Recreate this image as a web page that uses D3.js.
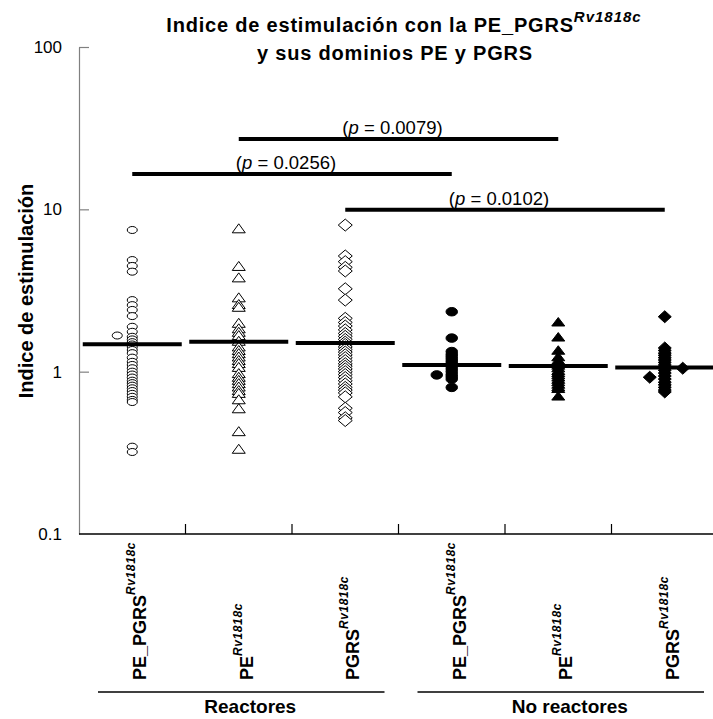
<!DOCTYPE html>
<html>
<head>
<meta charset="utf-8">
<script src="https://cdn.jsdelivr.net/npm/d3@7"></script>
<style>
  body { margin: 0; background: #fff; }
  svg { display: block; }
  text { font-family: "Liberation Sans", Arial, Helvetica, sans-serif; fill: #000; }
</style>
</head>
<body>
<svg id="chart" width="713" height="719"></svg>
<script>
// ---- data -------------------------------------------------------------
const categories = ["PE_PGRS", "PE", "PGRS", "PE_PGRS", "PE", "PGRS"];
const strain = "Rv1818c";
const groupNames = ["Reactores", "No reactores"];
const groupFirst = [0, 3];
const groupLast = [2, 5];
const markerShape = ["circle", "triangle", "diamond", "circle", "triangle", "diamond"];
const markerFilled = [false, false, false, true, true, true];

// stimulation index per individual, main column of each category
const reactPePgrs = [7.46, 4.87, 4.48, 4.13, 2.76, 2.57, 2.40, 2.20, 1.89, 1.76, 1.64, 1.58, 1.52, 1.47,
  1.42, 1.36, 1.30, 1.22, 1.15, 1.10, 1.05, 1.00, 0.96, 0.92, 0.88, 0.85, 0.82, 0.79, 0.76, 0.73,
  0.70, 0.67, 0.65, 0.345, 0.32];
const reactPe = [7.64, 4.48, 3.81, 2.87, 2.61, 2.51, 2.00, 1.85, 1.76, 1.68, 1.55, 1.43, 1.36, 1.30,
  1.24, 1.18, 1.13, 1.07, 0.98, 0.93, 0.89, 0.85, 0.81, 0.77, 0.74, 0.676, 0.595, 0.43, 0.335];
const reactPgrs = [8.0, 5.16, 4.76, 4.39, 4.17, 3.24, 2.76, 2.13, 2.01, 1.91, 1.81, 1.72, 1.65, 1.58,
  1.52, 1.47, 1.42, 1.37, 1.32, 1.27, 1.22, 1.17, 1.12, 1.08, 1.04, 1.00, 0.96, 0.92, 0.88, 0.84,
  0.80, 0.77, 0.74, 0.70, 0.595, 0.56, 0.52, 0.50];
const nonReactPePgrs = [2.34, 1.61, 1.33, 1.28, 1.24, 1.20, 1.16, 1.12, 1.08, 1.04, 1.00, 0.96, 0.93, 0.90, 0.80];
const nonReactPe = [2.03, 1.64, 1.36, 1.24, 1.18, 1.14, 1.10, 1.06, 1.02, 0.99, 0.96, 0.93, 0.90, 0.87,
  0.84, 0.81, 0.79, 0.71];
const nonReactPgrs = [2.18, 1.40, 1.35, 1.30, 1.26, 1.22, 1.18, 1.14, 1.10, 1.06, 1.02, 0.98, 0.94, 0.90,
  0.86, 0.83, 0.80, 0.77, 0.75];

// tied values plotted beside the column
const besideLeft = [[1.67], [], [], [0.955], [], [0.924]];
const besideRight = [[], [], [], [], [], [1.05]];

// central tendency line of each category
const centerValue = [1.475, 1.53, 1.50, 1.10, 1.084, 1.06];

// pairwise comparisons
const compFrom = [1, 0, 2];
const compTo = [4, 3, 5];
const compLevel = [27.1, 16.5, 9.93];
const compP = ["0.0079", "0.0256", "0.0102"];

const yTicks = [0.1, 1, 10, 100];
const yTickLabels = ["0.1", "1", "10", "100"];

const columns = [reactPePgrs, reactPe, reactPgrs, nonReactPePgrs, nonReactPe, nonReactPgrs];

// ---- layout -----------------------------------------------------------
const svg = d3.select("#chart");
const plotLeft = 79, plotTop = 47, plotBottom = 534, bandW = 106.5;

const y = d3.scaleLog().domain([0.1, 100]).range([plotBottom, plotTop]);
const x = d3.scaleBand().domain(d3.range(categories.length))
  .range([plotLeft, plotLeft + bandW * categories.length]).padding(0);
const cx = i => x(i) + x.bandwidth() / 2;

// marker outlines: width/height of each shape
const markerSize = {
  open:   { circle: [10, 7], triangle: [13, 9], diamond: [14, 12] },
  filled: { circle: [11.5, 8.5], triangle: [13, 8.5], diamond: [13, 12] }
};
function markerPath(shape, w, h) {
  const a = w / 2, b = h / 2;
  if (shape === "triangle") return `M0,${-b}L${a},${b}L${-a},${b}Z`;
  if (shape === "diamond") return `M0,${-b}L${a},0L0,${b}L${-a},0Z`;
  return `M${-a},0A${a},${b} 0 1,0 ${a},0A${a},${b} 0 1,0 ${-a},0Z`;
}

// ---- title ------------------------------------------------------------
const t1 = svg.append("text").attr("x", 404).attr("y", 32).attr("text-anchor", "middle")
  .style("font-weight", "bold").style("font-size", "20px").style("letter-spacing", "0.8px");
t1.append("tspan").text("Indice de estimulación con la PE_PGRS");
t1.append("tspan").attr("dy", -10).style("font-size", "15px").style("font-style", "italic")
  .style("letter-spacing", "1px").text(strain);
svg.append("text").attr("x", 395).attr("y", 60).attr("text-anchor", "middle")
  .style("font-weight", "bold").style("font-size", "20px").style("letter-spacing", "0.8px")
  .text("y sus dominios PE y PGRS");

// ---- y axis -----------------------------------------------------------
const yAxis = d3.axisLeft(y).tickValues(yTicks).tickFormat((d, i) => yTickLabels[i])
  .tickSizeInner(-10).tickSizeOuter(0).tickPadding(17);
const gy = svg.append("g").attr("transform", `translate(${plotLeft},0)`).call(yAxis);
gy.select(".domain").attr("stroke", "#808080").attr("stroke-width", 1.2);
gy.selectAll(".tick line").attr("stroke", "#808080").attr("stroke-width", 1.2)
  .filter(d => d === 0.1).remove();
gy.selectAll(".tick text").style("font-size", "17px").attr("fill", "#000")
  .style("font-family", '"Liberation Sans", Arial, sans-serif');

svg.append("text")
  .attr("transform", `translate(33,291) rotate(-90)`)
  .attr("text-anchor", "middle").style("font-weight", "bold").style("font-size", "20px")
  .text("Indice de estimulación");

// ---- x axis -----------------------------------------------------------
svg.append("line").attr("x1", plotLeft).attr("x2", 713).attr("y1", plotBottom).attr("y2", plotBottom)
  .attr("stroke", "#000").attr("stroke-width", 1.5);
svg.selectAll(".xtick").data(d3.range(1, categories.length)).join("line")
  .attr("class", "xtick")
  .attr("x1", d => x(d)).attr("x2", d => x(d))
  .attr("y1", plotBottom).attr("y2", plotBottom - 10)
  .attr("stroke", "#000").attr("stroke-width", 1.2);

categories.forEach((c, i) => {
  const t = svg.append("text")
    .attr("transform", `translate(${cx(i) + 14},680) rotate(-90)`)
    .style("font-weight", "bold").style("font-size", "18px");
  t.append("tspan").text(c);
  t.append("tspan").attr("dy", -11).style("font-size", "12px").style("font-style", "italic")
    .style("letter-spacing", "0.6px").text(strain);
});

groupNames.forEach((g, k) => {
  const x0 = x(groupFirst[k]) + 19, x1 = x(groupLast[k]) + x.bandwidth() - 14;
  svg.append("line").attr("x1", x0).attr("x2", x1).attr("y1", 692).attr("y2", 692)
    .attr("stroke", "#000").attr("stroke-width", 1.5);
  svg.append("text").attr("x", (x0 + x1) / 2 + 9).attr("y", 713).attr("text-anchor", "middle")
    .style("font-weight", "bold").style("font-size", "19px").text(g);
});

// ---- points -----------------------------------------------------------
columns.forEach((vals, i) => {
  const size = markerSize[markerFilled[i] ? "filled" : "open"][markerShape[i]];
  const d = markerPath(markerShape[i], size[0], size[1]);
  const pts = vals.map(v => ({ v, dx: 0 }))
    .concat(besideLeft[i].map(v => ({ v, dx: -15 })))
    .concat(besideRight[i].map(v => ({ v, dx: 18 })));
  svg.append("g").selectAll("path").data(pts).join("path")
    .attr("d", d)
    .attr("transform", p => `translate(${cx(i) + p.dx},${y(p.v)})`)
    .attr("fill", markerFilled[i] ? "#000" : "#fff")
    .attr("stroke", "#000").attr("stroke-width", 1);
});

// ---- central lines ----------------------------------------------------
svg.selectAll(".center").data(centerValue).join("line")
  .attr("class", "center")
  .attr("x1", (d, i) => cx(i) - 49.5).attr("x2", (d, i) => cx(i) + 49.5)
  .attr("y1", d => y(d)).attr("y2", d => y(d))
  .attr("stroke", "#000").attr("stroke-width", 4);

// ---- comparison bars --------------------------------------------------
compP.forEach((p, k) => {
  const yy = y(compLevel[k]);
  const xa = cx(compFrom[k]), xb = cx(compTo[k]);
  svg.append("line").attr("x1", xa).attr("x2", xb).attr("y1", yy).attr("y2", yy)
    .attr("stroke", "#000").attr("stroke-width", 4);
  const t = svg.append("text").attr("x", (xa + xb) / 2 - 6).attr("y", yy - 5)
    .attr("text-anchor", "middle").style("font-size", "18.5px");
  t.append("tspan").text("(");
  t.append("tspan").style("font-style", "italic").text("p");
  t.append("tspan").text(" = " + p + ")");
});
</script>
</body>
</html>
